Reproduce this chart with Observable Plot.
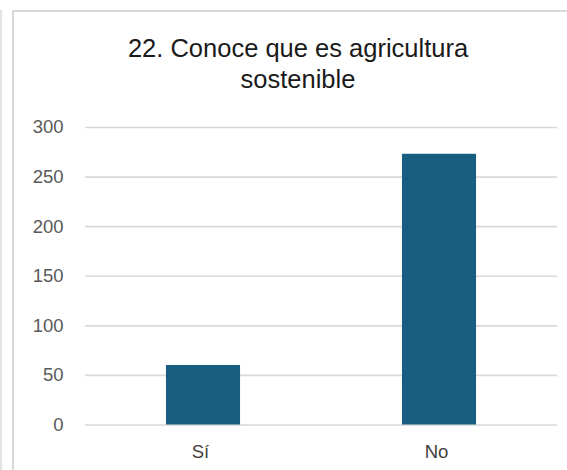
<!DOCTYPE html>
<html>
<head>
<meta charset="utf-8">
<script src="https://cdn.jsdelivr.net/npm/d3@7"></script>
<script src="https://cdn.jsdelivr.net/npm/@observablehq/plot@0.6"></script>
<style>
  html, body { margin: 0; padding: 0; background: #fff; }
  #wrap { position: relative; width: 567px; height: 470px; overflow: hidden; font-family: "Liberation Sans", Arial, sans-serif; }
  #outer { position: absolute; left: 0; top: 10px; width: 2px; height: 470px; background: #e2e2e2; }
  #frame { position: absolute; left: 12px; top: 10px; width: 600px; height: 500px; border-left: 2px solid #d9d9d9; border-top: 2px solid #d9d9d9; box-sizing: border-box; }
  #title { position: absolute; left: 98px; top: 32.7px; width: 400px; text-align: center; font-size: 25.5px; line-height: 31px; color: #1a1a1a; }
  #chart { position: absolute; left: 0; top: 0; }
</style>
</head>
<body>
<div id="wrap">
  <div id="outer"></div>
  <div id="frame"></div>
  <div id="chart"></div>
  <div id="title"></div>
</div>
<script>
const titleLines = ["22. Conoce que es agricultura", "sostenible"];
const categories = ["Sí", "No"];
const values = [60, 273];
const yTicks = [0, 50, 100, 150, 200, 250, 300];

const data = categories.map((c, i) => ({cat: c, value: values[i]}));

document.getElementById("title").innerHTML = titleLines.join("<br>");

const chart = Plot.plot({
  width: 567,
  height: 470,
  marginLeft: 85,
  marginRight: 10,
  marginTop: 127,
  marginBottom: 45.5,
  style: {background: "transparent", fontFamily: "'Liberation Sans', Arial, sans-serif"},
  x: {type: "band", domain: categories, paddingInner: 0.686, paddingOuter: 0.343, round: false, label: null},
  y: {domain: [0, 300], label: null},
  marks: [
    Plot.ruleY(yTicks, {stroke: "#d9d9d9", strokeWidth: 1.6}),
    Plot.barY(data, {x: "cat", y: "value", fill: "#185e80"}),
    Plot.axisY(yTicks, {tickSize: 0, tickPadding: 22, fontSize: 18.5, fill: "#595959", label: null}),
    Plot.axisX({tickSize: 0, tickPadding: 19.4, fontSize: 18.5, fill: "#404040", dx: -3, label: null})
  ]
});
document.getElementById("chart").appendChild(chart);
</script>
</body>
</html>
